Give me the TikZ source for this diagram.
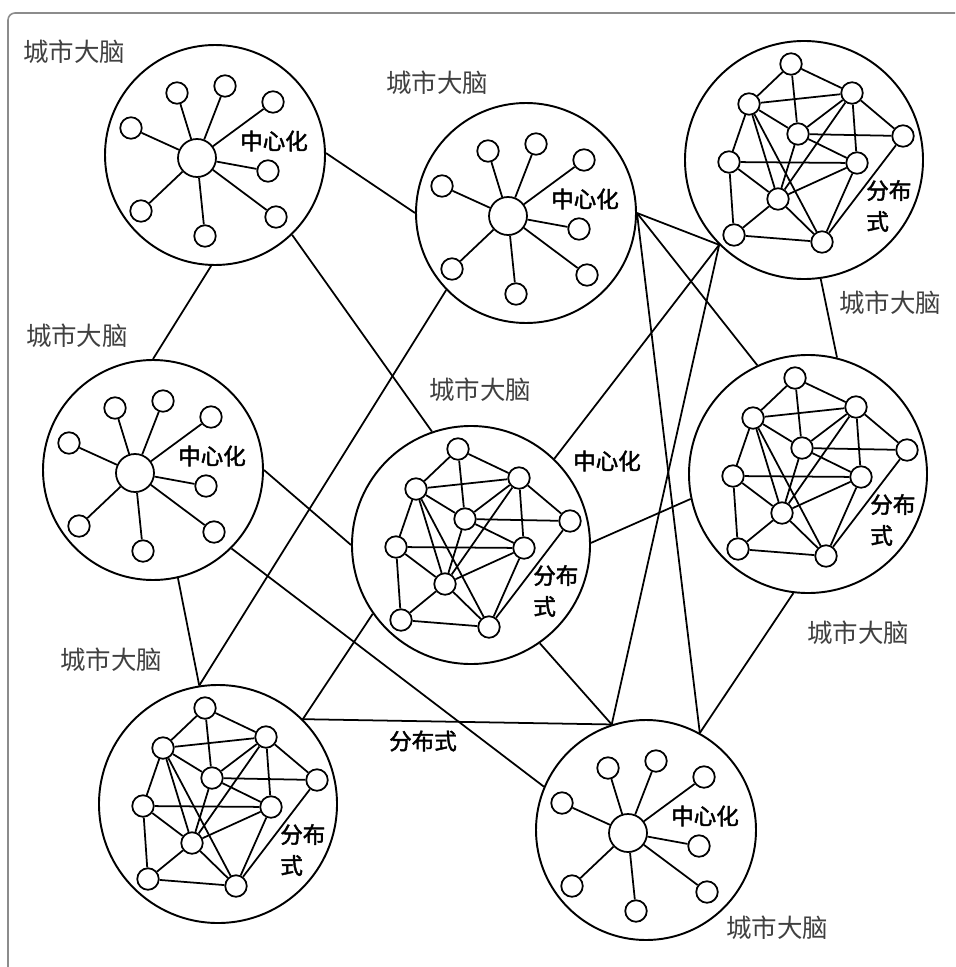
\documentclass[tikz,border=0pt]{standalone}
\usepackage{fontspec}
\newfontfamily\cjk{Noto Sans CJK SC}
\newfontfamily\cjkm{Noto Sans CJK SC}[FakeBold=2]

\tikzset{
  frame/.style={draw=black!45, line width=0.9pt, rounded corners=4},
  brain/.style={circle, draw, line width=1.1pt, minimum size=44mm, inner sep=0pt},
  bigbrain/.style={brain, minimum size=47.6mm},
  hubnode/.style={circle, draw, line width=1pt, minimum size=7.6mm, inner sep=0pt},
  leaf/.style={circle, draw, line width=1pt, minimum size=4.3mm, inner sep=0pt},
  link/.style={line width=1pt},
  city/.style={font=\cjk\fontsize{14.5}{16}\selectfont, text=black!75},
  kind/.style={font=\cjkm\fontsize{12.8}{17.6}\selectfont, align=left, inner sep=0pt},
}

% centralised brain: hub with eight leaves
\newcommand{\centnet}[3]{%
  \node[brain] (#1) at (#2,#3) {};
  \begin{scope}[shift={(#2,#3)}]
    \node[hubnode] (#1h) at (-18,3) {};
    \foreach \x/\y [count=\i] in {-38/-62,10/-69,58/-53,-84/-27,53/16,-74/56,-10/81,61/62}
      \node[leaf] (#1l\i) at (\x,\y) {};
    \node[kind] (#1k) at (59,-14) {中心化};
  \end{scope}
  \foreach \i in {1,...,8} \draw[link] (#1h) -- (#1l\i);
}

% distributed brain: meshed nodes
\newcommand{\distnet}[3]{%
  \node[bigbrain] (#1) at (#2,#3) {};
  \begin{scope}[shift={(#2,#3)}]
    \foreach \x/\y [count=\i] in {-13/-96,-55/-56,48/-67,-6/-26,99/-24,-75/2,53/3,-26/39,-70/75,18/82}
      \node[leaf] (#1n\i) at (\x,\y) {};
    \node[kind, anchor=west] (#1k) at (62,46) {分布\\式};
  \end{scope}
  \foreach \a/\b in {1/2,1/3,1/4,2/3,2/4,2/6,2/8,2/10,3/4,3/5,3/7,3/8,4/5,4/7,4/8,5/10,6/7,6/8,6/9,7/8,7/10,8/9,8/10,9/10}
    \draw[link] (#1n\a) -- (#1n\b);
}

\begin{document}
\begin{tikzpicture}[x=0.2mm, y=-0.2mm]
  \useasboundingbox (0,0) rectangle (955,967);
  \draw[frame] (8,967) -- (8,13) -- (955,13);

  % the eight brains
  \centnet{A}{215}{155}
  \centnet{B}{526}{213}
  \centnet{D}{153}{470}
  \centnet{H}{646}{830}
  \distnet{C}{804}{160}
  \distnet{E}{471}{545}
  \distnet{F}{808}{474}
  \distnet{G}{218}{804}

  % names
  \node[city] (tA) at (74,52) {城市大脑};
  \node[city] (tB) at (437,83) {城市大脑};
  \node[city] (tC) at (890,303) {城市大脑};
  \node[city] (tD) at (77,336) {城市大脑};
  \node[city] (tE) at (480,390) {城市大脑};
  \node[city] (tF) at (858,633) {城市大脑};
  \node[city] (tG) at (111,660) {城市大脑};
  \node[city] (tH) at (777,928) {城市大脑};
  \node[kind] (kE) at (607,461) {中心化};
  \node[kind] (kG) at (423,741) {分布式};

  % links between brains
  \draw[link] (A.1) -- (B.180);
  \draw[link] (A.-46) -- (E.109);
  \draw[link] (A.-92) -- (D.90);
  \draw[link] (B.-136) -- (G.99);
  \draw[link] (B.0) -- (C.225);
  \draw[link] (B.0) -- (F.115);
  \draw[link] (B.0) -- (H.61);
  \draw[link] (D.-77) -- (G.99);
  \draw[link] (D.0) -- (E.180);
  \draw[link] (D.-45) -- (H.157);
  \draw[link] (C.225) -- (E.46);
  \draw[link] (C.225) -- (H.108);
  \draw[link] (C.-82) -- (F.76);
  \draw[link] (E.1) -- (F.192);
  \draw[link] (E.-145) -- (G.45);
  \draw[link] (E.-55) -- (H.108);
  \draw[link] (G.45) -- (H.108);
  \draw[link] (H.61) -- (F.-97);
\end{tikzpicture}
\end{document}
